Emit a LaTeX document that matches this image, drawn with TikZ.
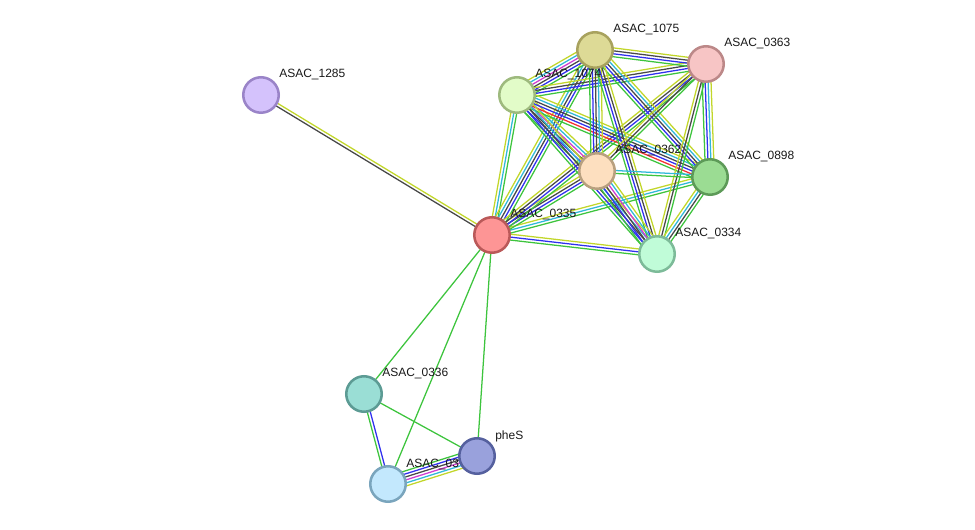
\documentclass[tikz,border=0pt]{standalone}
\usepackage{fontspec}
\setmainfont{Liberation Sans}
\usetikzlibrary{calc,backgrounds}
\definecolor{sgGreen}{HTML}{3DC43D}
\definecolor{sgRed}{HTML}{F53030}
\definecolor{sgBlue}{HTML}{3030EE}
\definecolor{sgBlack}{HTML}{484848}
\definecolor{sgMagenta}{HTML}{D03CD0}
\definecolor{sgCyan}{HTML}{30B8D8}
\definecolor{sgYellow}{HTML}{C2D62A}
\tikzset{
  prot/.style={circle, line width=1.9pt, minimum size=26.6pt, inner sep=0pt},
  plab/.style={anchor=west, inner sep=0pt, font=\fontsize{9}{10}\selectfont, text=black!90},
  lnk/.style={line width=0.95pt},
}
% one parallel line per evidence colour
\newcommand{\stlink}[3]{%
  \foreach \c [count=\k] in {#3} {\xdef\nlink{\k}}%
  \foreach \c [count=\k] in {#3} {
    \pgfmathsetmacro{\o}{(\k-(\nlink+1)/2)*2.2}
    \draw[lnk,\c] ($(#1)!\o pt!90:(#2)$) -- ($(#2)!\o pt!-90:(#1)$);
  }}

\begin{document}
\begin{tikzpicture}[x=0.75pt,y=-0.75pt]
  \useasboundingbox (0,0) rectangle (975,530);
  % proteins
  \node[prot, fill={rgb,255:red,212;green,194;blue,252}, draw={rgb,255:red,154;green,132;blue,200}] (p1285) at (261,95) {};
  \node[plab] (l1285) at ($(p1285)+(18,-20)$) {ASAC\_1285};
  \node[prot, fill={rgb,255:red,221;green,218;blue,150}, draw={rgb,255:red,168;green,162;blue,94}] (p1075) at (595,50) {};
  \node[plab] (l1075) at ($(p1075)+(18,-20)$) {ASAC\_1075};
  \node[prot, fill={rgb,255:red,247;green,197;blue,197}, draw={rgb,255:red,188;green,136;blue,136}] (p0363) at (706,64) {};
  \node[plab] (l0363) at ($(p0363)+(18,-20)$) {ASAC\_0363};
  \node[prot, fill={rgb,255:red,226;green,252;blue,200}, draw={rgb,255:red,158;green,186;blue,126}] (p1074) at (517,95) {};
  \node[plab] (l1074) at ($(p1074)+(18,-20)$) {ASAC\_1074};
  \node[prot, fill={rgb,255:red,253;green,223;blue,191}, draw={rgb,255:red,184;green,160;blue,127}] (p0362) at (597,171) {};
  \node[plab] (l0362) at ($(p0362)+(18,-20)$) {ASAC\_0362};
  \node[prot, fill={rgb,255:red,155;green,220;blue,147}, draw={rgb,255:red,93;green,154;blue,88}] (p0898) at (710,177) {};
  \node[plab] (l0898) at ($(p0898)+(18,-20)$) {ASAC\_0898};
  \node[prot, fill={rgb,255:red,253;green,149;blue,149}, draw={rgb,255:red,186;green,89;blue,89}] (p0335) at (492,235) {};
  \node[plab] (l0335) at ($(p0335)+(18,-20)$) {ASAC\_0335};
  \node[prot, fill={rgb,255:red,192;green,252;blue,216}, draw={rgb,255:red,125;green,187;blue,153}] (p0334) at (657,254) {};
  \node[plab] (l0334) at ($(p0334)+(18,-20)$) {ASAC\_0334};
  \node[prot, fill={rgb,255:red,154;green,222;blue,213}, draw={rgb,255:red,92;green,155;blue,148}] (p0336) at (364,394) {};
  \node[plab] (l0336) at ($(p0336)+(18,-20)$) {ASAC\_0336};
  \node[prot, fill={rgb,255:red,195;green,232;blue,253}, draw={rgb,255:red,122;green,165;blue,189}] (p03x) at (388,484) {};
  \node[plab] (l03x) at ($(p03x)+(18,-19)$) {ASAC\_03};
  \node[prot, fill={rgb,255:red,153;green,161;blue,220}, draw={rgb,255:red,85;green,96;blue,158}] (pPheS) at (477,456) {};
  \node[plab] (lPheS) at ($(pPheS)+(18,-20)$) {pheS};
  % associations
  \begin{scope}[on background layer]
    \stlink{p1285}{p0335}{sgBlack,sgYellow}
    \stlink{p0336}{p0335}{sgGreen}
    \stlink{pPheS}{p0335}{sgGreen}
    \stlink{p03x}{p0335}{sgGreen}
    \stlink{p0336}{p03x}{sgGreen,sgBlue}
    \stlink{p0336}{pPheS}{sgGreen}
    \stlink{pPheS}{p03x}{sgGreen,sgBlue,sgBlack,sgMagenta,sgCyan,sgYellow}
    \stlink{p0335}{p0334}{sgGreen,sgBlue,sgYellow}
    \stlink{p0335}{p0898}{sgGreen,sgCyan,sgYellow}
    \stlink{p0335}{p0362}{sgGreen,sgBlue,sgBlack,sgYellow}
    \stlink{p0335}{p1074}{sgGreen,sgCyan,sgYellow}
    \stlink{p0335}{p1075}{sgGreen,sgBlue,sgBlack,sgCyan,sgYellow}
    \stlink{p0335}{p0363}{sgGreen,sgBlue,sgBlack,sgYellow}
    \stlink{p1074}{p1075}{sgGreen,sgBlue,sgBlack,sgMagenta,sgCyan,sgYellow}
    \stlink{p1074}{p0363}{sgGreen,sgBlue,sgBlack,sgYellow}
    \stlink{p1074}{p0362}{sgGreen,sgBlue,sgBlack,sgMagenta,sgCyan,sgYellow}
    \stlink{p1074}{p0898}{sgGreen,sgRed,sgBlue,sgBlack,sgCyan,sgYellow}
    \stlink{p1074}{p0334}{sgGreen,sgBlue,sgBlack,sgCyan,sgYellow}
    \stlink{p1075}{p0363}{sgGreen,sgBlue,sgBlack,sgYellow}
    \stlink{p1075}{p0362}{sgGreen,sgBlue,sgBlack,sgCyan,sgYellow}
    \stlink{p1075}{p0898}{sgGreen,sgBlue,sgBlack,sgCyan,sgYellow}
    \stlink{p1075}{p0334}{sgGreen,sgBlue,sgBlack,sgYellow}
    \stlink{p0362}{p0363}{sgGreen,sgBlack,sgYellow}
    \stlink{p0363}{p0898}{sgGreen,sgBlue,sgCyan,sgYellow}
    \stlink{p0334}{p0363}{sgGreen,sgBlack,sgYellow}
    \stlink{p0362}{p0898}{sgGreen,sgCyan}
    \stlink{p0362}{p0334}{sgGreen,sgBlue,sgBlack,sgMagenta,sgCyan,sgYellow}
    \stlink{p0334}{p0898}{sgGreen,sgBlack,sgCyan,sgYellow}
  \end{scope}
\end{tikzpicture}
\end{document}
